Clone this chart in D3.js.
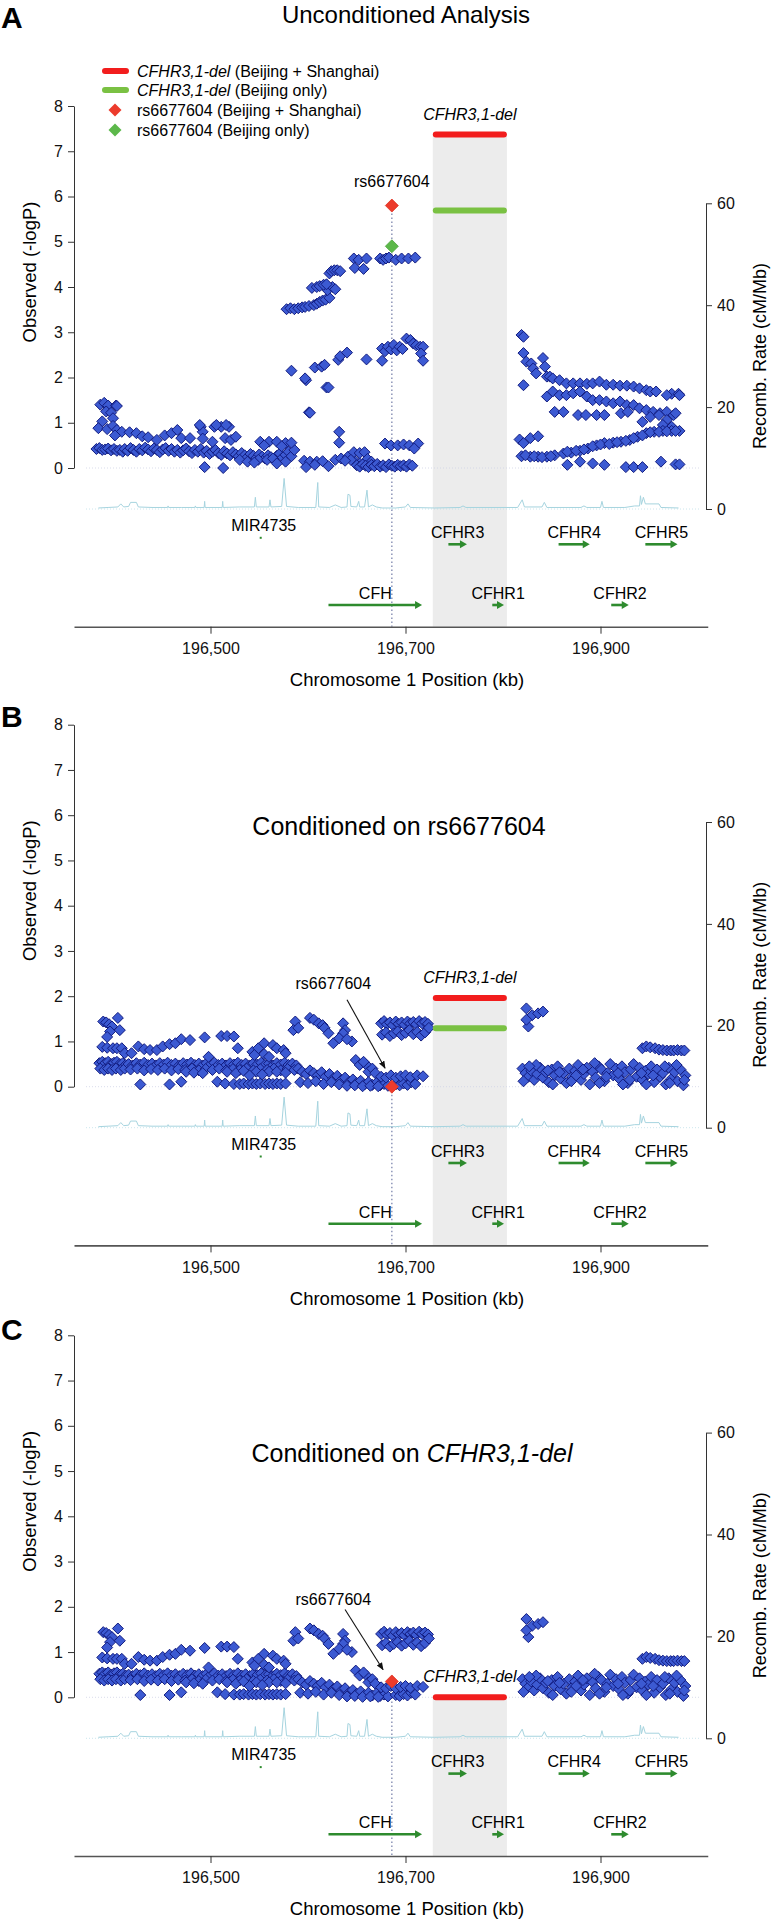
<!DOCTYPE html>
<html><head><meta charset="utf-8">
<script src="https://cdn.jsdelivr.net/npm/d3@7"></script>
<style>body{margin:0;background:#fff;} svg{display:block;font-family:"Liberation Sans",Arial,Helvetica,sans-serif;}</style>
</head><body><svg id="c" width="773" height="1920"></svg>
<script>
// ---------- DATA ----------
const xTicks = [196500, 196700, 196900];
const yTicks = [0,1,2,3,4,5,6,7,8];
const rTicks = [0,20,40,60];
const rsPos = 196686;               // rs6677604 position (kb)
const delRegion = [196728, 196804]; // CFHR3,1-del (kb)
const leadA = {bs: 5.8, bj: 4.9};
const leadB = {bs: 0.0};
const leadC = {bs: 0.35};
const delA = {bs: 7.37, bj: 5.69};
const delB = {bs: 1.96, bj: 1.29};
const delC = {bs: 0.0};
const genesRow1 = [["MIR4735",196551,196552],["CFHR3",196744,196763],["CFHR4",196857,196889],["CFHR5",196946,196979]];
const genesRow2 = [["CFH",196621,196717],["CFHR1",196789,196801],["CFHR2",196911,196929]];
const recomb = [[196385,0.2],[196395,0.3],[196405,0.4],[196408,1.0],[196411,0.4],[196416,0.5],[196418,1.3],[196424,1.3],[196426,0.4],[196440,0.3],[196456,0.3],[196456.5,0.6],[196457,0.3],[196470,0.3],[196484,0.3],[196484.5,0.6],[196485,0.3],[196493.5,0.3],[196494,1.5],[196494.5,0.3],[196512,0.3],[196512.5,1.5],[196513,0.3],[196530,0.4],[196545,0.4],[196546,2.3],[196547,0.4],[196560,0.4],[196561,1.8],[196562,0.4],[196573,0.5],[196575.5,6.0],[196578,0.5],[196590,0.3],[196608,0.3],[196610,5.2],[196611,0.4],[196622,0.3],[196628,0.8],[196634,0.3],[196640,0.4],[196641,2.9],[196643,2.7],[196644,0.5],[196650,0.4],[196652,1.5],[196653,0.4],[196658,0.4],[196660.5,3.7],[196662,0.4],[196666,0.8],[196670,0.4],[196676,0.2],[196690,0.2],[196700,0.4],[196702.5,1.0],[196705,0.3],[196730,0.2],[196756,0.3],[196759,0.6],[196762,0.3],[196800,0.3],[196815,0.3],[196819.7,1.8],[196822,0.4],[196840,0.4],[196842.4,1.3],[196845,0.3],[196880,0.3],[196883,0.6],[196886,0.3],[196900,0.3],[196901.5,1.5],[196903,0.3],[196925,0.3],[196935,0.6],[196940,0.6],[196941,2.6],[196942,0.9],[196944,2.3],[196946,1.0],[196960,1.0],[196962,0.3],[196980,0.2]];

const snpsA = [
[196387,1.40],[196391,1.44],[196395,1.38],[196403,1.38],[196393,1.25],[196398,1.22],[196404,1.37],[196400,1.10],[196389,1.03],[196385,0.88],[196394,0.86],[196400,0.93],[196404,0.84],[196409,0.80],[196402,0.72],
[196383,0.42],[196386,0.44],[196389,0.40],[196392,0.41],[196395,0.43],[196398,0.39],[196401,0.42],[196404,0.38],[196407,0.40],[196410,0.36],
[196412,0.42],[196415,0.38],[196418,0.44],[196421,0.40],[196424,0.36],[196427,0.42],[196430,0.39],[196433,0.45],[196436,0.41],[196439,0.37],[196442,0.43],[196445,0.40],[196448,0.35],[196451,0.41],[196454,0.44],[196457,0.38],[196460,0.42],[196463,0.36],[196466,0.40],[196469,0.34],[196472,0.39],[196475,0.43],[196478,0.37],[196481,0.33],[196484,0.40],[196487,0.36],[196490,0.42],[196493,0.34],[196496,0.38],[196499,0.31],[196502,0.36],[196505,0.40],[196508,0.33],[196511,0.29],[196514,0.37],[196517,0.32],[196520,0.28],[196523,0.35],[196526,0.30],[196529,0.26],[196532,0.33],[196535,0.28],[196538,0.24],[196541,0.31],[196544,0.27],[196547,0.22],[196550,0.30],[196553,0.25],[196556,0.21],[196559,0.28],[196562,0.24],[196565,0.20],[196568,0.27],[196571,0.32],[196574,0.23],[196577,0.29],[196580,0.36],[196583,0.26],[196586,0.40],
[196417,0.79],[196424,0.77],[196430,0.70],[196436,0.68],[196445,0.62],[196453,0.72],[196460,0.77],[196466,0.84],[196470,0.66],[196479,0.66],[196490,0.91],[196492,0.80],[196492,0.65],[196504,0.91],[196511,0.91],[196519,0.91],[196489,0.95],[196506,0.95],[196516,0.95],[196502,0.58],[196515,0.66],[196521,0.62],[196526,0.69],[196551,0.58],[196560,0.58],[196568,0.58],[196577,0.55],[196583,0.56],[196555,0.50],[196573,0.48],
[196494,0.02],[196513,0.00],[196530,0.18],[196538,0.14],[196549,0.18],[196558,0.18],[196564,0.21],[196577,0.14],[196545,0.12],[196568,0.10],
[196598,1.94],[196601,1.23],[196619,1.78],
[196578,3.51],[196582,3.53],[196586,3.51],[196590,3.53],[196594,3.55],[196597,3.56],[196601,3.58],[196606,3.60],[196609,3.63],[196612,3.67],[196615,3.70],[196618,3.72],[196622,3.76],
[196620,3.93],[196625,4.00],[196604,3.98],[196609,4.00],[196612,4.02],[196616,4.05],[196619,4.06],
[196622,4.30],[196624,4.35],[196627,4.37],[196630,4.37],[196633,4.35],[196628,3.95],
[196647,4.63],[196652,4.60],[196660,4.63],[196648,4.42],[196657,4.40],
[196674,4.63],[196677,4.60],[196680,4.63],[196683,4.65],[196690,4.60],[196696,4.63],[196703,4.63],[196710,4.65],
[196583,2.15],[196597,1.98],[196607,2.22],[196614,2.24],[196617,2.28],[196621,1.78],[196631,2.39],[196633,2.47],[196640,2.55],[196660,2.40],[196676,2.37],[196676,2.64],[196679,2.58],[196682,2.68],[196685,2.62],[196688,2.72],[196691,2.60],[196694,2.68],[196697,2.63],[196701,2.86],[196705,2.83],[196708,2.75],[196711,2.71],[196715,2.68],[196718,2.68],[196716,2.53],[196718,2.37],[196602,1.22],
[196632,0.80],[196632,0.56],[196596,0.16],[196602,0.14],[196609,0.14],[196615,0.15],[196621,0.04],[196598,0.02],[196607,0.07],[196628,0.18],[196634,0.21],[196641,0.25],[196647,0.35],[196653,0.33],[196658,0.35],[196649,0.14],[196653,0.10],[196644,0.18],[196638,0.16],[196661,0.20],[196665,0.14],
[196650,0.06],[196653,0.03],[196656,0.08],[196659,0.05],[196662,0.02],[196665,0.07],[196668,0.04],[196671,0.09],[196674,0.03],[196677,0.06],[196680,0.02],[196683,0.08],[196686,0.05],[196689,0.03],[196692,0.07],[196695,0.04],[196698,0.06],[196701,0.03],[196704,0.08],[196707,0.05],
[196679,0.54],[196685,0.50],[196692,0.50],[196698,0.52],[196704,0.50],[196713,0.54],[196709,0.43],
[196819,2.94],[196821,2.90],[196821,2.54],[196824,2.35],[196829,2.31],[196831,2.20],[196834,2.09],[196841,2.43],[196843,2.24],[196845,2.02],[196848,2.02],[196851,1.98],[196821,1.83],[196845,1.58],
[196858,1.94],[196865,1.87],[196872,1.87],[196879,1.87],[196886,1.86],[196892,1.87],[196899,1.91],[196906,1.84],[196913,1.84],[196920,1.82],[196927,1.82],[196934,1.80],[196940,1.76],[196947,1.72],[196951,1.69],[196957,1.69],[196973,1.64],[196980,1.64],
[196851,1.69],[196858,1.61],[196865,1.61],[196872,1.65],[196879,1.69],[196886,1.58],[196892,1.50],[196899,1.50],[196906,1.47],[196913,1.43],[196920,1.47],[196927,1.39],[196934,1.39],[196940,1.32],[196947,1.28],[196954,1.24],[196961,1.21],[196968,1.24],[196975,1.17],
[196853,1.24],[196862,1.24],[196877,1.17],[196885,1.17],[196896,1.17],[196904,1.17],[196921,1.21],[196928,1.24],
[196943,1.02],[196951,1.13],[196960,1.17],[196968,1.06],[196977,1.21],[196964,0.95],[196973,0.91],[196968,1.61],[196981,1.61],
[196817,0.63],[196821,0.55],[196828,0.66],[196836,0.70],
[196819,0.26],[196828,0.25],[196836,0.25],[196845,0.25],[196853,0.28],[196862,0.32],[196870,0.34],[196879,0.38],[196887,0.43],[196896,0.50],[196904,0.55],[196913,0.56],[196921,0.58],[196930,0.62],[196938,0.69],[196947,0.77],[196955,0.80],[196964,0.82],[196973,0.82],[196981,0.82],
[196823,0.28],[196832,0.26],[196840,0.24],[196849,0.26],[196866,0.36],[196875,0.38],[196883,0.41],[196892,0.48],[196900,0.52],[196909,0.53],[196917,0.57],[196926,0.60],[196934,0.66],[196943,0.72],[196951,0.79],[196960,0.80],[196968,0.81],[196977,0.82],
[196866,0.07],[196879,0.14],[196892,0.10],[196904,0.07],[196926,0.02],[196934,0.02],[196943,0.02],[196962,0.14],[196977,0.08],[196981,0.08]
];

const snpsCond = [
[196390,1.44],[196393,1.42],[196396,1.38],[196399,1.33],[196405,1.52],[196397,1.22],[196407,1.25],[196394,1.10],[196389,0.88],[196394,0.86],[196400,0.85],[196404,0.85],[196409,0.85],[196412,0.74],
[196386,0.52],[196389,0.55],[196392,0.52],[196395,0.55],[196398,0.50],[196401,0.53],[196404,0.55],[196407,0.50],[196410,0.52],[196413,0.48],
[196387,0.40],[196391,0.37],[196395,0.40],[196399,0.37],[196403,0.40],[196408,0.37],[196412,0.40],
[196416,0.50],[196420,0.47],[196424,0.52],[196428,0.49],[196432,0.53],[196436,0.48],[196440,0.51],[196444,0.47],[196448,0.52],[196452,0.49],[196456,0.53],[196460,0.48],[196464,0.51],[196468,0.47],[196472,0.52],[196476,0.49],[196480,0.53],[196484,0.48],[196488,0.51],[196492,0.47],[196496,0.52],[196500,0.49],[196504,0.53],[196508,0.48],[196512,0.51],[196516,0.47],[196520,0.52],[196524,0.49],[196528,0.53],[196532,0.48],[196536,0.51],[196540,0.47],[196544,0.52],[196548,0.49],[196552,0.53],[196556,0.48],[196560,0.51],[196564,0.47],[196568,0.52],[196572,0.49],[196576,0.53],[196580,0.48],[196584,0.51],[196588,0.47],
[196418,0.38],[196425,0.40],[196432,0.36],[196439,0.39],[196446,0.37],[196453,0.40],[196460,0.36],[196467,0.39],[196474,0.37],[196481,0.40],[196488,0.36],[196495,0.39],[196502,0.37],[196509,0.40],[196516,0.36],[196523,0.39],[196530,0.37],[196537,0.40],[196544,0.36],[196551,0.39],[196558,0.37],[196565,0.40],[196572,0.36],[196579,0.39],[196586,0.37],
[196419,0.74],[196426,0.89],[196432,0.83],[196438,0.81],[196445,0.81],[196451,0.89],[196458,0.94],[196464,0.96],[196470,1.05],[196479,1.03],[196494,1.09],[196511,1.12],[196517,1.12],[196524,1.11],[196528,0.85],[196543,0.77],[196549,0.85],[196555,0.96],[196564,0.92],[196568,0.85],[196575,0.81],[196577,0.74],[196498,0.66],[196555,0.72],[196545,0.70],[196560,0.66],
[196428,0.05],[196458,0.05],[196470,0.11],[196507,0.11],[196515,0.07],[196524,0.06],[196530,0.06],[196534,0.07],[196539,0.06],[196543,0.07],[196547,0.06],[196551,0.07],[196556,0.06],[196560,0.07],[196564,0.06],[196568,0.07],[196572,0.06],[196577,0.07],
[196475,0.33],[196483,0.31],[196492,0.30],[196517,0.33],[196526,0.30],[196534,0.35],[196547,0.33],[196560,0.33],[196568,0.33],[196577,0.31],[196540,0.25],[196553,0.27],
[196587,1.44],[196585,1.25],[196590,1.30],[196602,1.52],[196606,1.48],[196611,1.40],[196615,1.36],[196617,1.30],[196621,1.18],[196626,0.96],[196636,1.40],[196638,1.25],[196636,1.18],[196645,1.00],[196632,1.07],[196640,1.05],
[196649,0.59],[196653,0.48],[196660,0.48],[196662,0.33],[196657,0.55],[196666,0.40],[196669,0.30],
[196590,0.40],[196594,0.33],[196598,0.28],[196602,0.36],[196606,0.30],[196610,0.25],[196614,0.32],[196618,0.22],[196622,0.28],[196626,0.18],[196630,0.24],[196634,0.14],[196638,0.20],[196642,0.10],[196646,0.16],[196650,0.08],[196654,0.13],[196658,0.05],[196662,0.10],[196666,0.04],[196670,0.08],[196674,0.03],[196678,0.06],[196682,0.02],[196690,0.05],[196694,0.03],[196698,0.07],[196702,0.04],[196706,0.10],[196710,0.06],
[196592,0.10],[196600,0.08],[196608,0.12],[196616,0.06],[196624,0.10],[196632,0.05],[196640,0.02],[196648,0.03],[196656,0.01],[196664,0.02],[196672,0.01],
[196675,0.22],[196680,0.20],[196685,0.25],[196690,0.20],[196695,0.23],[196700,0.25],[196705,0.21],[196712,0.25],[196718,0.23],
[196675,1.40],[196678,1.45],[196681,1.38],[196684,1.42],[196687,1.36],[196690,1.44],[196693,1.39],[196696,1.42],[196699,1.37],[196702,1.44],[196705,1.40],[196708,1.43],[196711,1.38],[196714,1.45],[196717,1.40],[196720,1.43],[196723,1.39],
[196676,1.15],[196680,1.20],[196684,1.12],[196688,1.18],[196692,1.22],[196696,1.14],[196700,1.19],[196704,1.25],[196708,1.16],[196712,1.21],[196716,1.13],[196720,1.20],[196724,1.30],
[196824,1.73],[196830,1.58],[196836,1.62],[196841,1.66],[196826,1.33],[196824,1.48],
[196943,0.85],[196947,0.89],[196951,0.87],[196956,0.85],[196960,0.82],[196964,0.81],[196968,0.80],[196972,0.80],[196975,0.80],[196979,0.81],[196983,0.80],[196986,0.80],
[196820,0.40],[196823,0.30],[196826,0.22],[196829,0.35],[196832,0.15],[196835,0.28],[196838,0.42],[196841,0.20],[196844,0.32],[196847,0.10],[196850,0.38],[196853,0.25],[196856,0.45],[196859,0.18],[196862,0.30],[196865,0.08],[196868,0.40],[196871,0.22],[196874,0.35],[196877,0.48],[196880,0.15],[196883,0.28],[196886,0.42],[196889,0.05],[196892,0.33],[196895,0.20],[196898,0.45],[196901,0.38],[196904,0.12],[196907,0.30],[196910,0.50],[196913,0.25],[196916,0.40],[196919,0.18],[196922,0.45],[196925,0.32],[196928,0.08],[196931,0.38],[196934,0.50],[196937,0.22],[196940,0.42],[196943,0.15],[196946,0.35],[196949,0.28],[196952,0.45],[196955,0.10],[196958,0.38],[196961,0.22],[196964,0.30],[196967,0.05],[196970,0.42],[196973,0.18],[196976,0.32],[196979,0.12],[196982,0.38],[196985,0.03],[196987,0.25],
[196821,0.12],[196834,0.48],[196846,0.36],[196858,0.32],[196870,0.12],[196882,0.38],[196894,0.52],[196906,0.22],[196918,0.30],[196930,0.15],[196942,0.30],[196954,0.25],[196966,0.45],[196978,0.48],[196986,0.15],[196827,0.45],[196851,0.05],[196875,0.25],[196899,0.08],[196923,0.05],[196947,0.05],[196971,0.08]
];

// ---------- DRAW ----------
const svg = d3.select("#c");
const x = d3.scaleLinear().domain([196360, 197010]).range([74, 707.75]);
const dia = r => `M0,${-r}L${r},0L0,${r}L${-r},0Z`;
const BLUE = "#3c5ad2", BLUE_S = "#121c80", RED = "#f21d1d", REDD = "#ec3b2c", GREEN = "#7ac143", GREEND = "#5cb84a", GENE = "#2e8b2e";

svg.append("defs").append("marker").attr("id","arr").attr("viewBox","0 0 10 10")
  .attr("refX",9).attr("refY",5).attr("markerWidth",7).attr("markerHeight",7).attr("orient","auto")
  .append("path").attr("d","M0,1L10,5L0,9Z").attr("fill","#111");

const panels = [
  {id:"A", dy:0, snps:snpsA, lead:leadA, del:delA, titleY:23, titleX:406, letterY:28, annot:null},
  {id:"B", dy:618.7, snps:snpsCond, lead:leadB, del:delB, titleY:216.8, titleX:399, letterY:108, annot:{t:2.16, from:[196640,1.92], to:[196679,0.41]}},
  {id:"C", dy:1229.3, snps:snpsCond, lead:leadC, del:delC, titleY:232.7, titleX:412, letterY:111, annot:{t:2.03, from:[196638,1.94], to:[196677,0.61]}}
];

panels.forEach(p => {
  const g = svg.append("g").attr("transform", `translate(0,${p.dy})`);
  const yL = d3.scaleLinear().domain([0,8]).range([468,106]);
  const yR = d3.scaleLinear().domain([0,60]).range([509,203.3]);
  const axisY = 626.7;

  g.append("rect").attr("x", x(delRegion[0])).attr("width", x(delRegion[1]) - x(delRegion[0]))
    .attr("y", yL(p.del.bs)).attr("height", axisY - yL(p.del.bs)).attr("fill", "#ececec");

  g.append("line").attr("x1",86).attr("x2",700).attr("y1",yL(0)).attr("y2",yL(0))
    .attr("stroke","#cfd3e6").attr("stroke-width",0.8).attr("stroke-dasharray","1,2");
  g.append("line").attr("x1",86).attr("x2",700).attr("y1",yR(0)).attr("y2",yR(0))
    .attr("stroke","#bfe0e8").attr("stroke-width",0.8).attr("stroke-dasharray","1,2");

  g.append("path").datum(recomb)
    .attr("d", d3.line().x(d => x(d[0])).y(d => yR(d[1])))
    .attr("fill","none").attr("stroke","#a6d4df").attr("stroke-width",1);

  g.append("line").attr("x1",x(rsPos)).attr("x2",x(rsPos)).attr("y1",yL(p.lead.bs)).attr("y2",axisY)
    .attr("stroke","#7d86ad").attr("stroke-width",1.3).attr("stroke-dasharray","1.5,2.5");

  g.append("g").selectAll("path").data(p.snps).join("path")
    .attr("transform", d => `translate(${x(d[0])},${yL(d[1])})`)
    .attr("d", dia(5.5)).attr("fill", BLUE).attr("stroke", BLUE_S).attr("stroke-width", 1);

  const bx1 = x(delRegion[0]) + 3, bx2 = x(delRegion[1]) - 3;
  if (p.del.bj !== undefined) {
    g.append("line").attr("x1",bx1).attr("x2",bx2).attr("y1",yL(p.del.bj)).attr("y2",yL(p.del.bj))
      .attr("stroke",GREEN).attr("stroke-width",6).attr("stroke-linecap","round");
  }
  g.append("line").attr("x1",bx1).attr("x2",bx2).attr("y1",yL(p.del.bs)).attr("y2",yL(p.del.bs))
    .attr("stroke",RED).attr("stroke-width",6).attr("stroke-linecap","round");
  g.append("text").attr("x", x((delRegion[0]+delRegion[1])/2)).attr("y", yL(p.del.bs + 0.33))
    .attr("text-anchor","middle").attr("font-size",16).attr("font-style","italic").text("CFHR3,1-del");

  if (p.lead.bj !== undefined) {
    g.append("path").attr("transform",`translate(${x(rsPos)},${yL(p.lead.bj)})`).attr("d",dia(6.5))
      .attr("fill",GREEND).attr("stroke","#4ea43c").attr("stroke-width",0.8);
  }
  g.append("path").attr("transform",`translate(${x(rsPos)},${yL(p.lead.bs)})`).attr("d",dia(6.5))
    .attr("fill",REDD).attr("stroke","#e0301f").attr("stroke-width",0.8);

  if (!p.annot) {
    g.append("text").attr("x", x(rsPos)).attr("y", yL(6.22)).attr("text-anchor","middle")
      .attr("font-size",16).text("rs6677604");
  } else {
    g.append("text").attr("x", x(196626)).attr("y", yL(p.annot.t)).attr("text-anchor","middle")
      .attr("font-size",16).text("rs6677604");
    g.append("line").attr("x1",x(p.annot.from[0])).attr("y1",yL(p.annot.from[1]))
      .attr("x2",x(p.annot.to[0])).attr("y2",yL(p.annot.to[1]))
      .attr("stroke","#111").attr("stroke-width",1.1).attr("marker-end","url(#arr)");
  }

  const ax = g.append("g").attr("transform","translate(74,0)")
    .call(d3.axisLeft(yL).tickValues(yTicks).tickSize(6).tickSizeOuter(0).tickPadding(5));
  const ar = g.append("g").attr("transform","translate(706,0)")
    .call(d3.axisRight(yR).tickValues(rTicks).tickSize(6).tickSizeOuter(0).tickPadding(5));
  const ab = g.append("g").attr("transform",`translate(0,${axisY})`)
    .call(d3.axisBottom(x).tickValues(xTicks).tickFormat(d3.format(",")).tickSize(7).tickSizeOuter(0).tickPadding(9));
  [ax, ar, ab].forEach(a => {
    a.attr("font-family", null).attr("font-size", 16);
    a.selectAll("path.domain").attr("stroke","#333");
    a.selectAll(".tick line").attr("stroke","#333");
    a.selectAll("text").attr("fill","#111");
  });
  ab.selectAll("path.domain").attr("stroke","#555").attr("stroke-width",1.6);

  g.append("text").attr("transform",`translate(30,272) rotate(-90)`)
    .attr("text-anchor","middle").attr("dy","0.35em").attr("font-size",18.5).text("Observed (-logP)");
  g.append("text").attr("transform",`translate(760,356) rotate(-90)`)
    .attr("text-anchor","middle").attr("dy","0.35em").attr("font-size",18).text("Recomb. Rate (cM/Mb)");
  g.append("text").attr("x",407).attr("y",686).attr("text-anchor","middle").attr("font-size",18.5)
    .text("Chromosome 1 Position (kb)");

  const drawGenes = (rows, labelY, arrowY) => {
    rows.forEach(gn => {
      const x1 = x(gn[1]), x2 = x(gn[2]);
      const cx = (x1 + x2) / 2;
      if (x2 - x1 < 4) {
        g.append("rect").attr("x", cx - 1).attr("y", arrowY - 7.5).attr("width", 2).attr("height", 2).attr("fill", GENE);
        g.append("text").attr("x", cx + 3).attr("y", labelY - 7).attr("text-anchor","middle").attr("font-size",16).text(gn[0]);
      } else {
        g.append("line").attr("x1",x1).attr("x2",x2-5).attr("y1",arrowY).attr("y2",arrowY)
          .attr("stroke",GENE).attr("stroke-width",2.6);
        g.append("path").attr("d",`M${x2-7},${arrowY-4}L${x2},${arrowY}L${x2-7},${arrowY+4}Z`).attr("fill",GENE);
        g.append("text").attr("x", cx).attr("y", labelY).attr("text-anchor","middle").attr("font-size",16).text(gn[0]);
      }
    });
  };
  drawGenes(genesRow1, 538, 544.3);
  drawGenes(genesRow2, 599, 605);

  g.append("text").attr("x",1).attr("y",p.letterY).attr("font-size",30).attr("font-weight","bold").text(p.id);
  const t = g.append("text").attr("x",p.titleX).attr("y",p.titleY).attr("text-anchor","middle");
  if (p.id === "A") { t.attr("font-size",24).text("Unconditioned Analysis"); }
  else if (p.id === "B") { t.attr("font-size",25).text("Conditioned on rs6677604"); }
  else { t.attr("font-size",25); t.append("tspan").text("Conditioned on "); t.append("tspan").attr("font-style","italic").text("CFHR3,1-del"); }

  if (p.id === "A") {
    const lg = g.append("g");
    const rows = [
      {type:"line", color:RED, it:"CFHR3,1-del", rest:" (Beijing + Shanghai)", y:71},
      {type:"line", color:GREEN, it:"CFHR3,1-del", rest:" (Beijing only)", y:90},
      {type:"dia", color:REDD, it:"", rest:"rs6677604 (Beijing + Shanghai)", y:110},
      {type:"dia", color:GREEND, it:"", rest:"rs6677604 (Beijing only)", y:130}
    ];
    rows.forEach(r => {
      if (r.type === "line") lg.append("line").attr("x1",105).attr("x2",126).attr("y1",r.y).attr("y2",r.y)
        .attr("stroke",r.color).attr("stroke-width",6).attr("stroke-linecap","round");
      else lg.append("path").attr("transform",`translate(115,${r.y})`).attr("d",dia(6.5)).attr("fill",r.color);
      const tx = lg.append("text").attr("x",137).attr("y",r.y+5.5).attr("font-size",16);
      if (r.it) tx.append("tspan").attr("font-style","italic").text(r.it);
      tx.append("tspan").text(r.rest);
    });
  }
});
</script>
</body></html>
